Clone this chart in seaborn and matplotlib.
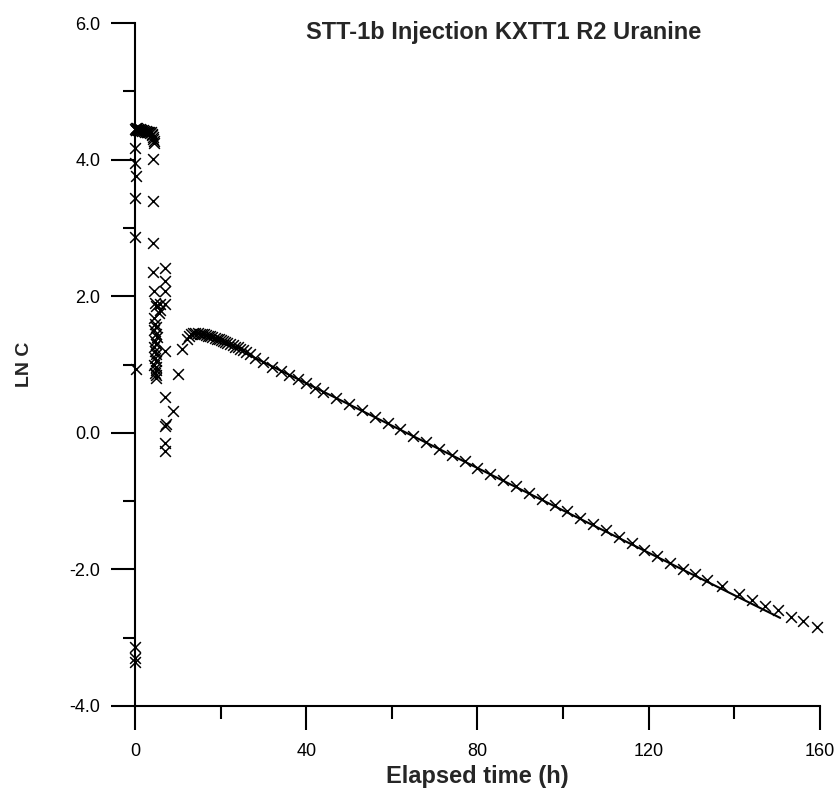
import matplotlib
matplotlib.use("Agg")
import matplotlib.pyplot as plt
import seaborn as sns
import pandas as pd
from matplotlib.ticker import FixedLocator

# ---------------- data ----------------
# injection column at t ~ 0
t_start = [0.05, 0.10, 0.15, 0.10, 0.05, 0.15, 0.10, 0.05, 0.10]
y_start = [4.17, 3.95, 3.76, 3.44, 2.86, 0.94, -3.13, -3.30, -3.36]

# plateau
t_plateau = [0.05, 0.15, 0.25, 0.35, 0.5, 0.65, 0.8, 0.95, 1.1, 1.3, 1.5, 1.7, 1.9, 2.1,
             2.3, 2.5, 2.7, 2.9, 3.1, 3.3, 3.5, 3.7, 3.9, 4.05, 4.2, 4.3, 4.4, 4.5]
y_plateau = [4.45, 4.46, 4.43, 4.44, 4.46, 4.45, 4.44, 4.43, 4.45, 4.44, 4.43, 4.42, 4.43, 4.42,
             4.41, 4.42, 4.41, 4.40, 4.41, 4.40, 4.39, 4.40, 4.38, 4.36, 4.33, 4.30, 4.27, 4.24]

# second column (t ~ 4-6)
t_col2 = [4.2, 4.3, 4.3, 4.3, 4.4, 4.6, 4.8, 4.5, 4.7, 5.0, 4.5, 4.8, 5.1, 4.6, 4.9, 4.4,
          4.7, 5.0, 4.6, 4.9, 4.5, 4.8, 5.0, 4.7, 4.9, 4.8, 5.6, 5.9, 5.8]
y_col2 = [4.01, 3.40, 2.78, 2.36, 2.08, 1.90, 1.85, 1.68, 1.60, 1.55, 1.50, 1.45, 1.40, 1.35,
          1.30, 1.25, 1.20, 1.15, 1.10, 1.05, 1.00, 0.96, 0.92, 0.88, 0.85, 0.80, 1.75, 1.80, 1.89]

# third column (t ~ 7) and rise to the peak
t_col3 = [7.0, 7.0, 7.0, 7.0, 7.0, 7.0, 7.3, 7.1, 7.1, 7.0, 8.9, 10.0, 11.0, 12.1]
y_col3 = [2.42, 2.22, 2.08, 1.88, 1.20, 0.53, 0.13, 0.10, -0.15, -0.27, 0.32, 0.86, 1.23, 1.38]

# recession limb
t_tail = [12.6, 13.1, 13.6, 14.1, 14.6, 15.1, 15.6, 16.1, 16.6, 17.1, 17.6, 18.1, 18.6, 19.1,
          19.6, 20.1, 20.6, 21.1, 21.6, 22.2, 22.8, 23.4, 24.0, 24.6, 25.3, 26.0, 26.8,
          28, 30, 32, 34, 36, 38, 40, 42, 44, 47, 50, 53, 56, 59, 62, 65, 68, 71, 74, 77,
          80, 83, 86, 89, 92, 95, 98, 101, 104, 107, 110, 113, 116, 119,
          122.0, 125.0, 128.1, 130.8, 133.6, 137.1, 141.0, 144.1, 147.2, 150.2, 153.3, 156.1, 159.3]
y_tail = [1.42, 1.45, 1.46, 1.46, 1.46, 1.45, 1.45, 1.44, 1.43, 1.42, 1.41, 1.40, 1.39, 1.38,
          1.37, 1.36, 1.34, 1.33, 1.32, 1.30, 1.28, 1.26, 1.25, 1.23, 1.21, 1.18, 1.15,
          1.10, 1.03, 0.97, 0.91, 0.85, 0.79, 0.73, 0.66, 0.60, 0.51, 0.42, 0.33, 0.23, 0.14,
          0.05, -0.05, -0.14, -0.23, -0.32, -0.41,
          -0.51, -0.60, -0.69, -0.78, -0.88, -0.97, -1.06, -1.15, -1.25, -1.34, -1.43, -1.53,
          -1.62, -1.72,
          -1.81, -1.90, -1.99, -2.07, -2.15, -2.25, -2.36, -2.45, -2.53, -2.60, -2.69, -2.75, -2.84]

# fitted straight line
t_fit = [26.0, 150.7]
y_fit = [1.16, -2.71]

x_ticks_major = [0, 40, 80, 120, 160]
x_ticks_minor = [20, 60, 100, 140]
y_ticks_major = [-4.0, -2.0, 0.0, 2.0, 4.0, 6.0]
y_ticks_minor = [-3.0, -1.0, 1.0, 3.0, 5.0]

title = "STT-1b Injection KXTT1 R2 Uranine"
xlabel = "Elapsed time (h)"
ylabel = "LN C"

# ---------------- plotting ----------------
sns.set_style("ticks")
plt.rcParams["font.family"] = ["Liberation Sans Narrow", "Liberation Sans", "DejaVu Sans"]
plt.rcParams["axes.unicode_minus"] = False

df = pd.DataFrame({
    "t": t_start + t_plateau + t_col2 + t_col3 + t_tail,
    "lnc": y_start + y_plateau + y_col2 + y_col3 + y_tail,
})
df_fit = pd.DataFrame({"t": t_fit, "lnc": y_fit})

fig = plt.figure(figsize=(8.37, 7.91), dpi=100)
ax = fig.add_axes([135 / 837, 1 - 706 / 791, 685 / 837, 683 / 791])

sns.lineplot(data=df_fit, x="t", y="lnc", ax=ax, color="black", linewidth=1.5,
             sort=False, estimator=None)
sns.scatterplot(data=df, x="t", y="lnc", ax=ax, marker="x", color="black", s=60,
                linewidth=1.1, clip_on=False, zorder=3)

ax.set_xlim(0, 160)
ax.set_ylim(-4, 6)
ax.xaxis.set_major_locator(FixedLocator(x_ticks_major))
ax.xaxis.set_minor_locator(FixedLocator(x_ticks_minor))
ax.yaxis.set_major_locator(FixedLocator(y_ticks_major))
ax.yaxis.set_minor_locator(FixedLocator(y_ticks_minor))
ax.set_xticklabels([f"{v:d}" for v in x_ticks_major])
ax.set_yticklabels([f"{v:.1f}" for v in y_ticks_major])

for side in ["top", "right"]:
    ax.spines[side].set_visible(False)
for side in ["left", "bottom"]:
    ax.spines[side].set_linewidth(1.5)
    ax.spines[side].set_color("black")

ax.tick_params(axis="both", which="major", direction="out", length=17, width=1.5,
               labelsize=13, colors="black")
ax.tick_params(axis="both", which="minor", direction="out", length=9, width=1.5,
               colors="black")
ax.tick_params(axis="y", which="major", pad=8)
ax.tick_params(axis="x", which="major", pad=10)

ax.set_xlabel(xlabel, fontsize=17, fontweight="bold", labelpad=3)
ax.set_ylabel(ylabel, fontsize=14, fontweight="bold", labelpad=26)
ax.text(0.538, 0.986, title, transform=ax.transAxes, ha="center", va="center",
        fontsize=17, fontweight="bold")

fig.savefig("out.png", dpi=100, facecolor="white")
